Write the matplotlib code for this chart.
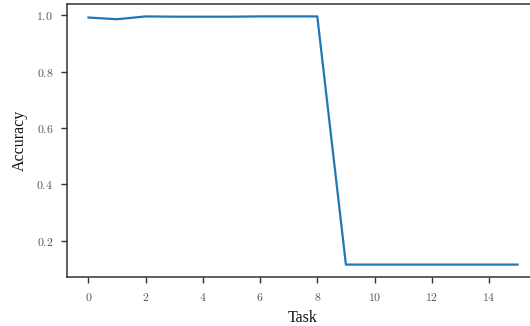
import matplotlib
matplotlib.use('Agg')
import matplotlib.pyplot as plt

tasks = list(range(16))
accuracy = [0.992, 0.986, 0.996, 0.995, 0.995, 0.995, 0.996, 0.996, 0.996,
            0.116, 0.116, 0.116, 0.116, 0.116, 0.116, 0.116]

plt.rcParams['font.family'] = 'serif'
plt.rcParams['font.serif'] = ['cmr10']
plt.rcParams['mathtext.fontset'] = 'cm'
plt.rcParams['axes.formatter.use_mathtext'] = True

fig = plt.figure(figsize=(5.30, 3.26), dpi=100)
# axes runs past the right edge, as in the cropped reference
ax = fig.add_axes([67/530, 1 - 277/326, 472/530, 273/326])

ax.plot(tasks, accuracy, color='#1f77b4', linewidth=1.6)

ax.set_xticks([0, 2, 4, 6, 8, 10, 12, 14])
ax.set_yticks([0.2, 0.4, 0.6, 0.8, 1.0])
ax.set_xlabel('Task', fontsize=11.5, family='Liberation Serif', color='#111111', labelpad=5)
ax.set_ylabel('Accuracy', fontsize=11.5, family='Liberation Serif', color='#111111', labelpad=6)

for s in ax.spines.values():
    s.set_color('#333333')
    s.set_linewidth(1.1)
ax.tick_params(colors='#333333', labelcolor='#555555', labelsize=8.5,
               length=4, width=1.0, pad=6)

fig.savefig('out.png', dpi=100)
